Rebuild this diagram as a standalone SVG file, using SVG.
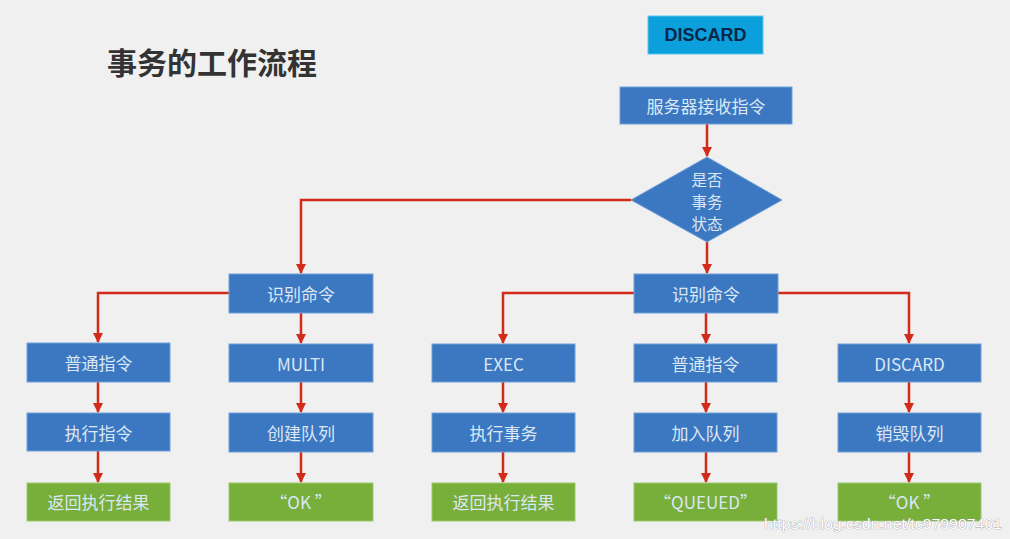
<svg xmlns="http://www.w3.org/2000/svg" width="1010" height="539" viewBox="0 0 1010 539">
<style>
.bg{fill:#f0f0f0}
.box{fill:#3b78c1;stroke:#6fa0d8;stroke-width:1}
.gbox{fill:#78ae3a;stroke:#9cc96a;stroke-width:1}
.t{font-family:"Noto Sans CJK SC","Noto Sans",sans-serif;font-size:17px;fill:#dce7f4;text-anchor:middle;dominant-baseline:central}
.d{font-size:15.5px}
.title{font-family:"Noto Sans CJK SC",sans-serif;font-size:30px;font-weight:bold;fill:#333333}
.c{fill:none;stroke:#d42a1a;stroke-width:2.5;stroke-linejoin:miter}
.wm{font-family:"Liberation Sans",Arial,sans-serif;font-size:14px;fill:#ffffff;stroke:#9a9a9a;stroke-width:0.6;paint-order:stroke}
</style>
<defs>
<marker id="ah" viewBox="0 0 10 10" refX="9" refY="5" markerWidth="4.2" markerHeight="4.2" orient="auto" markerUnits="strokeWidth">
<path d="M0,0 L10,5 L0,10 z" fill="#d42a1a"/>
</marker>
</defs>
<rect class="bg" x="0" y="0" width="1010" height="539"/>
<text class="title" x="107" y="74">事务的工作流程</text>

<g id="connectors">
<path class="c" d="M707,124 V156" marker-end="url(#ah)"/>
<path class="c" d="M631,200 H301 V273" marker-end="url(#ah)"/>
<path class="c" d="M707,242 V273" marker-end="url(#ah)"/>
<path class="c" d="M229,293 H98 V342" marker-end="url(#ah)"/>
<path class="c" d="M301,313 V343" marker-end="url(#ah)"/>
<path class="c" d="M98,382 V412" marker-end="url(#ah)"/>
<path class="c" d="M98,451 V482" marker-end="url(#ah)"/>
<path class="c" d="M301,382 V412" marker-end="url(#ah)"/>
<path class="c" d="M301,452 V482" marker-end="url(#ah)"/>
<path class="c" d="M634,293 H503 V343" marker-end="url(#ah)"/>
<path class="c" d="M706,313 V343" marker-end="url(#ah)"/>
<path class="c" d="M778,293 H909 V343" marker-end="url(#ah)"/>
<path class="c" d="M503,382 V412" marker-end="url(#ah)"/>
<path class="c" d="M503,452 V482" marker-end="url(#ah)"/>
<path class="c" d="M706,382 V412" marker-end="url(#ah)"/>
<path class="c" d="M706,452 V482" marker-end="url(#ah)"/>
<path class="c" d="M909,382 V412" marker-end="url(#ah)"/>
<path class="c" d="M909,452 V482" marker-end="url(#ah)"/>
</g>

<g id="discard-label">
<rect x="648" y="16" width="115" height="38" fill="#0b9fdc" stroke="#5cc3ee" stroke-width="1"/>
<text x="705.5" y="35" text-anchor="middle" dominant-baseline="central" font-family="'Liberation Sans',Arial,sans-serif" font-size="18" font-weight="bold" fill="#0a2748">DISCARD</text>
</g>
<g id="n-server"><rect class="box" x="620" y="87" width="172" height="37"/><text class="t" x="706" y="105.5">服务器接收指令</text></g>
<g id="n-decision">
<polygon points="707,157 782,200 707,242 631,200" fill="#3b78c1" stroke="#6fa0d8" stroke-width="1"/>
<text class="t d" x="707" y="179">是否</text>
<text class="t d" x="707" y="201">事务</text>
<text class="t d" x="707" y="223">状态</text>
</g>
<g id="n-recog-l"><rect class="box" x="229" y="274" width="144" height="39"/><text class="t" x="301" y="293.5">识别命令</text></g>
<g id="n-recog-r"><rect class="box" x="634" y="274" width="144" height="39"/><text class="t" x="706" y="293.5">识别命令</text></g>

<g id="n-normal-l"><rect class="box" x="27" y="343" width="143" height="39"/><text class="t" x="98.5" y="362.5">普通指令</text></g>
<g id="n-multi"><rect class="box" x="229" y="344" width="144" height="38"/><text class="t" x="301" y="363">MULTI</text></g>
<g id="n-exec"><rect class="box" x="432" y="344" width="143" height="38"/><text class="t" x="503.5" y="363">EXEC</text></g>
<g id="n-normal-r"><rect class="box" x="634" y="344" width="143" height="38"/><text class="t" x="705.5" y="363">普通指令</text></g>
<g id="n-discard"><rect class="box" x="838" y="344" width="143" height="38"/><text class="t" x="909.5" y="363">DISCARD</text></g>

<g id="n-execcmd"><rect class="box" x="27" y="413" width="143" height="38"/><text class="t" x="98.5" y="432">执行指令</text></g>
<g id="n-create"><rect class="box" x="229" y="413" width="144" height="39"/><text class="t" x="301" y="432.5">创建队列</text></g>
<g id="n-exectx"><rect class="box" x="432" y="413" width="143" height="39"/><text class="t" x="503.5" y="432.5">执行事务</text></g>
<g id="n-enqueue"><rect class="box" x="634" y="413" width="143" height="39"/><text class="t" x="705.5" y="432.5">加入队列</text></g>
<g id="n-destroy"><rect class="box" x="838" y="413" width="143" height="39"/><text class="t" x="909.5" y="432.5">销毁队列</text></g>

<g id="n-result-l"><rect class="gbox" x="27" y="483" width="143" height="38"/><text class="t" x="98.5" y="501">返回执行结果</text></g>
<g id="n-ok-l"><rect class="gbox" x="229" y="483" width="144" height="38"/><text class="t" x="301" y="501">“OK ”</text></g>
<g id="n-result-r"><rect class="gbox" x="432" y="483" width="143" height="38"/><text class="t" x="503.5" y="501">返回执行结果</text></g>
<g id="n-queued"><rect class="gbox" x="634" y="483" width="143" height="38"/><text class="t" x="705.5" y="501">“QUEUED”</text></g>
<g id="n-ok-r"><rect class="gbox" x="838" y="483" width="143" height="38"/><text class="t" x="909.5" y="501">“OK ”</text></g>

<text class="wm" x="764" y="529" textLength="238" lengthAdjust="spacingAndGlyphs">https://blog.csdn.net/tc979907461</text>
</svg>
